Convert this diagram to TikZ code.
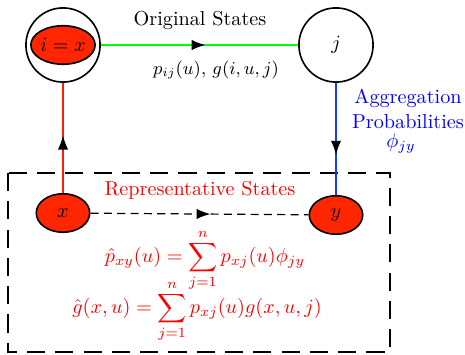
\documentclass[tikz,border=0pt]{standalone}
\usepackage{amsmath,amssymb}
\usetikzlibrary{arrows.meta,positioning,decorations.markings,shapes.geometric}
\definecolor{allapotpiros}{RGB}{255,38,0}
\definecolor{vonalpiros}{RGB}{255,30,0}
\definecolor{vonalkek}{RGB}{20,60,255}
\tikzset{
  kulso/.style={draw,thick,circle,minimum size=1.29cm,inner sep=0pt},
  belso/.style={draw,thick,ellipse,fill=allapotpiros,minimum width=0.93cm,minimum height=0.67cm,inner sep=0pt},
  kozepnyil/.style={postaction={decorate},decoration={markings,
      mark=at position #1 with {\arrow[black,solid]{Latex[length=2.4mm,width=1.8mm]}}}},
  vonal/.style={semithick},
  keret/.style={thick,dash pattern=on 9pt off 5pt},
  szaggatott/.style={semithick,dash pattern=on 4pt off 2.6pt},
  piros/.style={text=red},
}
\begin{document}
\begin{tikzpicture}[x=0.0174cm,y=-0.0174cm,font=\normalsize]
  \useasboundingbox (0,0) rectangle (465,354);
  % eredeti allapotok
  \node[kulso] (I) at (63,45) {};
  \node[belso] (IX) at (63,45) {$i=x$};
  \node[kulso] (J) at (336,45) {$j$};
  \node (OS) at (200,20) {Original States};
  \node (PG) at (216,70) {\small $p_{ij}(u)$, $g(i,u,j)$};
  % reprezentativ allapotok
  \draw[keret] (8,173) rectangle (390,352);
  \node[belso] (X) at (63,213) {$x$};
  \node[belso] (Y) at (336,215) {$y$};
  \node[piros] (RS) at (200,190) {Representative States};
  \node[text=red] (F1) at (205,260) {$\displaystyle \hat{p}_{xy}(u)=\sum_{j=1}^{n}p_{xj}(u)\phi_{jy}$};
  \node[text=red] (F2) at (197,311) {$\displaystyle \hat{g}(x,u)=\sum_{j=1}^{n}p_{xj}(u)g(x,u,j)$};
  % aggregacio
  \node[text=blue,align=center] (AP) at (408,109) {Aggregation\\Probabilities};
  \node[text=blue] (PHI) at (401,143) {$\phi_{jy}$};
  % nyilak
  \draw[vonal,green,kozepnyil=0.53] (I) -- (J);
  \draw[vonal,vonalpiros,kozepnyil=0.52] (X) -- (I);
  \draw[vonal,vonalkek,kozepnyil=0.64] (J) -- (Y);
  \draw[szaggatott,kozepnyil=0.55] (X) -- (Y);
\end{tikzpicture}
\end{document}
